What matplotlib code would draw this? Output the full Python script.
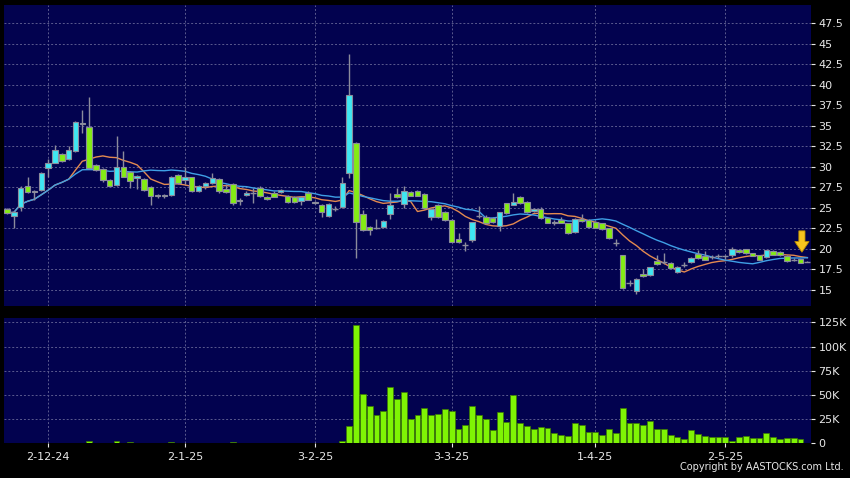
import matplotlib
matplotlib.use('Agg')
from matplotlib import pyplot as plt
from matplotlib.patches import FancyArrow
import numpy as np
import pandas as pd

# daily candles, left to right (open, high, low, close)
opens = [24.8, 24.0, 25.1, 27.6, 26.9, 27.2, 29.8, 30.5, 31.5, 30.9,
         31.9, 35.2, 34.8, 30.2, 29.7, 28.4, 27.8, 30.0, 29.4, 28.6,
         28.5, 27.5, 26.6, 26.6, 26.6, 29.0, 28.4, 28.7, 27.0, 27.6,
         28.0, 28.5, 27.3, 27.9, 25.8, 26.6, 26.8, 27.4, 26.35, 26.85,
         26.9, 26.5, 26.3, 25.8, 26.8, 25.75, 25.4, 24.0, 24.85, 25.1,
         29.3, 32.9, 24.2, 22.7, 22.45, 22.7, 24.25, 26.7, 25.5, 26.9,
         27.1, 26.7, 23.9, 25.4, 24.5, 23.5, 21.2, 20.45, 21.1, 24.0,
         23.9, 23.75, 22.8, 25.55, 25.4, 26.3, 25.7, 24.6, 24.9, 23.8,
         23.1, 23.55, 23.15, 22.0, 23.7, 23.5, 23.3, 23.1, 22.5, 20.7,
         19.2, 15.85, 14.9, 17.0, 16.8, 18.5, 18.35, 18.3, 17.2, 18.05,
         18.45, 19.4, 19.15, 19.05, 19.15, 19.1, 19.25, 19.85, 19.95, 19.45,
         19.2, 19.0, 19.8, 19.6, 19.15, 18.65, 18.75, 18.45]
highs = [25.0, 24.6, 27.7, 28.7, 27.2, 29.4, 31.0, 32.7, 31.7, 32.5,
         35.6, 36.9, 38.5, 30.3, 29.8, 28.5, 33.7, 31.9, 29.5, 29.0,
         28.6, 27.6, 26.7, 26.7, 28.9, 29.1, 30.0, 28.8, 27.8, 28.1,
         29.3, 28.6, 27.9, 28.0, 26.2, 27.1, 27.4, 27.6, 26.5, 27.0,
         27.3, 26.6, 26.4, 26.4, 27.0, 25.8, 25.5, 25.6, 25.2, 28.8,
         43.7, 33.0, 24.7, 22.8, 23.7, 23.5, 26.8, 27.4, 27.6, 27.0,
         27.2, 26.8, 25.0, 25.5, 24.6, 23.6, 21.9, 20.9, 23.3, 25.2,
         24.1, 23.9, 24.5, 25.6, 26.8, 26.4, 25.8, 25.0, 25.1, 23.9,
         23.5, 23.9, 23.2, 23.8, 24.3, 23.6, 23.4, 23.2, 22.6, 21.2,
         19.3, 16.2, 16.4, 17.5, 17.8, 19.25, 19.45, 18.4, 17.9, 18.4,
         19.0, 19.85, 19.7, 19.3, 19.4, 19.3, 20.2, 19.95, 20.0, 19.5,
         19.3, 19.9, 19.9, 19.7, 19.2, 18.9, 18.8, 18.5]
lows = [24.3, 22.5, 24.6, 26.8, 25.9, 27.1, 28.7, 30.4, 30.6, 30.8,
        31.8, 34.1, 29.7, 29.5, 28.2, 27.6, 27.7, 28.7, 27.4, 27.3,
        27.1, 25.3, 26.2, 26.2, 26.5, 27.9, 27.9, 26.9, 26.9, 27.3,
        27.9, 26.8, 26.8, 25.3, 25.4, 26.5, 25.65, 26.3, 26.0, 26.3,
        26.8, 25.6, 25.6, 25.4, 25.9, 25.5, 23.9, 23.9, 24.6, 25.0,
        28.6, 18.9, 22.2, 21.7, 22.4, 22.6, 23.7, 26.2, 25.0, 26.4,
        26.4, 24.9, 23.5, 23.8, 23.4, 20.8, 20.7, 19.7, 20.9, 23.8,
        23.0, 23.2, 22.2, 24.3, 25.3, 25.5, 24.4, 24.5, 23.7, 23.1,
        22.9, 23.1, 21.8, 21.9, 23.3, 22.6, 22.5, 22.3, 21.2, 20.3,
        15.1, 15.5, 14.5, 16.6, 16.7, 18.1, 18.2, 17.6, 17.1, 17.8,
        18.3, 18.8, 18.6, 18.8, 18.9, 18.8, 19.0, 19.5, 19.4, 19.1,
        18.6, 18.9, 19.2, 19.1, 18.4, 18.5, 18.3, 18.4]
closes = [24.4, 24.5, 27.4, 26.9, 27.05, 29.3, 30.5, 32.1, 30.7, 32.0,
          35.5, 35.3, 29.8, 29.6, 28.4, 27.7, 30.0, 28.8, 28.3, 28.9,
          27.2, 26.4, 26.4, 26.4, 28.8, 28.0, 28.7, 27.0, 27.7, 28.0,
          28.6, 27.0, 26.9, 25.6, 26.0, 26.85, 26.8, 26.4, 26.1, 26.35,
          27.2, 25.75, 25.75, 26.3, 26.0, 25.55, 24.5, 25.5, 24.9, 28.05,
          38.7, 23.3, 22.3, 22.3, 22.5, 23.4, 25.35, 26.3, 27.1, 26.5,
          26.5, 25.0, 24.9, 23.85, 23.5, 20.9, 20.85, 20.45, 23.25, 24.0,
          23.1, 23.3, 24.45, 24.4, 25.75, 25.55, 24.45, 24.8, 23.8, 23.15,
          23.3, 23.2, 21.9, 23.7, 23.4, 22.7, 22.6, 22.4, 21.3, 20.7,
          15.2, 15.8, 16.3, 16.7, 17.75, 18.2, 18.4, 17.65, 17.85, 18.05,
          18.9, 18.85, 18.7, 19.05, 19.15, 19.1, 19.95, 19.6, 19.45, 19.15,
          18.65, 19.85, 19.25, 19.2, 18.5, 18.65, 18.3, 18.45]
# volume in thousands of shares
volumes = [0.3, 0.3, 0.3, 0.3, 0.3, 0.3, 0.3, 0.3, 0.3, 0.3,
           0.3, 0.3, 2.4, 0.3, 0.3, 0.3, 3.0, 1.0, 1.4, 1.0,
           0.3, 0.3, 0.3, 0.3, 1.4, 0.3, 1.0, 0.3, 0.3, 0.3,
           0.3, 0.3, 0.3, 1.4, 0.3, 0.3, 0.3, 0.3, 0.3, 0.3,
           0.3, 0.3, 0.3, 0.3, 0.3, 0.3, 0.3, 0.3, 0.3, 2.4,
           17.7, 122.0, 50.6, 38.9, 29.3, 33.4, 58.5, 45.8, 52.7, 25.1,
           28.9, 37.0, 29.0, 30.0, 35.5, 33.0, 14.5, 19.0, 39.0, 29.0,
           25.5, 14.0, 32.0, 21.7, 50.0, 21.0, 18.3, 14.5, 17.0, 16.0,
           11.0, 8.3, 8.0, 20.7, 19.0, 11.4, 11.7, 9.0, 15.0, 10.7,
           36.5, 21.3, 21.0, 19.0, 23.4, 14.8, 14.8, 8.3, 6.5, 4.8,
           13.4, 9.3, 8.0, 6.5, 7.2, 6.5, 2.4, 6.2, 7.6, 5.9,
           5.5, 10.7, 6.9, 4.8, 5.9, 5.2, 4.5, 1.0]

tick_pos = [6, 26, 45, 65, 86, 105]
tick_labels = ['2-12-24', '2-1-25', '3-2-25', '3-3-25', '1-4-25', '2-5-25']
price_ticks = [15, 17.5, 20, 22.5, 25, 27.5, 30, 32.5, 35, 37.5, 40, 42.5, 45, 47.5]
vol_ticks = [0, 25, 50, 75, 100, 125]
vol_labels = ['0', '25K', '50K', '75K', '100K', '125K']

o = np.array(opens)
h = np.array(highs)
l = np.array(lows)
c = np.array(closes)
x = np.arange(len(c))

ma10 = pd.Series(c).rolling(10, min_periods=1).mean()
ma20 = pd.Series(c).rolling(20, min_periods=1).mean()

bg = '#02024f'
up_col = '#3fe6f2'
dn_col = '#84ec14'
edge = '#8c8c9c'
grid_col = '#5a5a8e'
txt = '#e8e8e8'

fig = plt.figure(figsize=(8.5, 4.78), dpi=100, facecolor='black')
ax = fig.add_axes([0.0047, 0.3598, 0.95, 0.6297])
axv = fig.add_axes([0.0047, 0.0722, 0.95, 0.2625])

for a in (ax, axv):
    a.set_facecolor(bg)
    for s in a.spines.values():
        s.set_visible(False)
    a.set_xlim(-0.45, len(c) - 0.4)
    a.set_xticks(tick_pos)
    a.yaxis.tick_right()
    a.tick_params(axis='y', colors=txt, labelsize=8, length=3, pad=2, width=0.8)
    a.grid(True, color=grid_col, linestyle=(0, (2, 2)), linewidth=0.7)
    a.set_axisbelow(True)

# price panel
ax.set_ylim(13.05, 49.69)
ax.set_yticks(price_ticks)
ax.set_yticklabels([f'{t:g}' for t in price_ticks])
ax.tick_params(axis='x', bottom=False, labelbottom=False)

ax.plot(x, ma10, color='#e48a50', linewidth=1.0, zorder=2)
ax.plot(x, ma20, color='#3fa0e6', linewidth=1.0, zorder=2)

ax.vlines(x, l, h, color=edge, linewidth=1.0, zorder=3)
body_lo = np.minimum(o, c)
body_h = np.abs(c - o)
doji = body_h < 0.08
colors = np.where(c >= o, up_col, dn_col)
ax.bar(x[~doji], body_h[~doji], bottom=body_lo[~doji], width=0.8,
       color=colors[~doji], edgecolor=edge, linewidth=0.8, zorder=4)
ax.hlines(c[doji], x[doji] - 0.45, x[doji] + 0.45, color=edge, linewidth=1.0, zorder=4)

# arrow pointing at the latest candle
ax_x = x[-1] - 0.8
ax.add_patch(FancyArrow(ax_x, h[-2] + 3.4, 0, -2.6, width=0.9, head_width=2.1,
                        head_length=1.3, length_includes_head=True,
                        facecolor='#f7c51e', edgecolor='#b88a00', linewidth=0.6, zorder=6))

# volume panel
axv.set_ylim(0, 129.4)
axv.set_yticks(vol_ticks)
axv.set_yticklabels(vol_labels)
axv.bar(x, volumes, width=0.86, color='#7ff404', edgecolor='#3c7a00', linewidth=0.5, zorder=3)
axv.set_xticklabels(tick_labels)
axv.tick_params(axis='x', colors=txt, labelsize=8, length=3, pad=3, width=0.8)

fig.text(0.992, 0.012, 'Copyright by AASTOCKS.com Ltd.', color=txt, fontsize=7, ha='right', va='bottom')

fig.savefig('out.png', dpi=100, facecolor='black')
